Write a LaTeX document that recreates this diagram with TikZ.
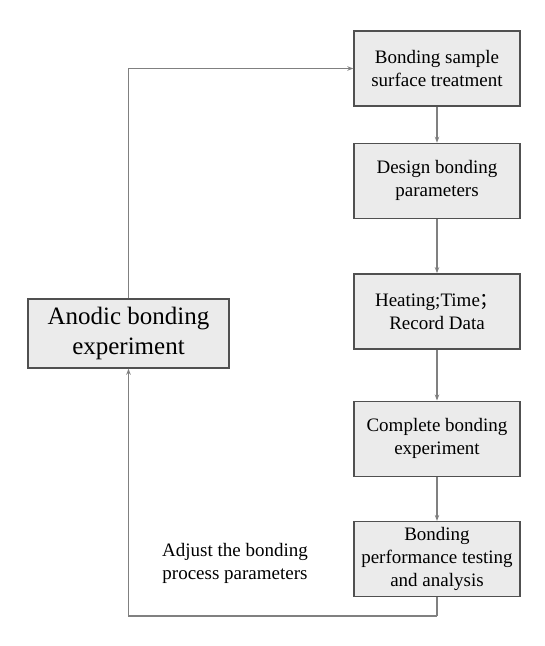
\documentclass[tikz,border=0pt]{standalone}
\usepackage{fontspec}
\setmainfont{Liberation Serif}
\newfontfamily\timesface{Liberation Serif}
\newfontfamily\cjk{Noto Sans CJK SC}
\usepackage{tikz}
\usetikzlibrary{positioning, arrows.meta}

\definecolor{boxfill}{HTML}{EBEBEB}
\definecolor{boxline}{HTML}{505050}
\definecolor{wire}{HTML}{808080}

\begin{document}
\begin{tikzpicture}[
    x=1pt, y=-1pt,
    stepbox/.style={fill=boxfill, draw=boxline, line width=1.4pt, align=center,
        minimum width=166pt, minimum height=75pt, inner sep=4pt,
        font=\timesface\fontsize{19}{23}\selectfont},
    every path/.style={draw=wire, line width=1.3pt, -{Stealth[length=6pt, width=4.5pt]}}
]
\useasboundingbox[draw=none] (0,0) rectangle (545,646);

% Nodes
\node[stepbox] (surface) at (437,68.5) {Bonding sample\\surface treatment};
\node[stepbox, below=36pt of surface] (design) {Design bonding\\parameters};
\node[stepbox, below=54pt of design] (heating) {Heating;Time{\cjk ；}\\Record Data};
\node[stepbox, below=51pt of heating] (complete) {Complete bonding\\experiment};
\node[stepbox, below=44pt of complete] (testing) {Bonding\\performance testing\\and analysis};
\node[stepbox, minimum width=201pt, minimum height=69pt,
    font=\timesface\fontsize{25}{30}\selectfont] (anodic) at (128.5,333.5) {Anodic bonding\\experiment};
\node[align=center, font=\timesface\fontsize{19}{23}\selectfont] (adjust) at (235,563.5)
    {Adjust the bonding\\process parameters};
\coordinate (turn) at (437,616);

% Paths
\draw (anodic.north) |- (surface.west);
\draw (surface) -- (design);
\draw (design) -- (heating);
\draw (heating) -- (complete);
\draw (complete) -- (testing);
\draw[-] (testing.south) -- (turn);
\draw (turn) -| (anodic.south);

\end{tikzpicture}
\end{document}
